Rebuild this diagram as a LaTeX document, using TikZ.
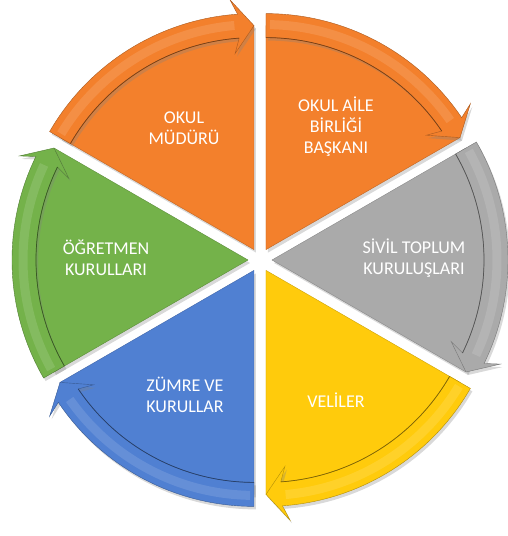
\documentclass[tikz,border=0pt]{standalone}
\usepackage{fontspec}
\setmainfont{Carlito}
\usetikzlibrary{shadows}

\definecolor{segorange}{RGB}{243,128,44}
\definecolor{seggray}{RGB}{170,170,170}
\definecolor{segyellow}{RGB}{255,203,12}
\definecolor{segblue}{RGB}{80,128,210}
\definecolor{seggreen}{RGB}{116,178,74}

% one wedge with its arrow band; #1 = end angle (arrow tip), #2 = colour
\newcommand{\pieseg}[2]{%
  \begin{scope}[shift={(#1+30:12pt)}]
    \fill[#2, draw=#2!80!black, wedge shadow]
      (0,0) -- (#1:224pt) arc[start angle=#1, end angle=#1+60, radius=224pt] -- cycle;
    \fill[#2, draw=#2!70!black, wedge shadow]
      (#1+60:212pt) arc[start angle=#1+60, end angle=#1+4, radius=212pt]
      -- (#1+5.5:197pt) -- (#1:224pt) -- (#1+5.5:251pt) -- (#1+4:236pt)
      arc[start angle=#1+4, end angle=#1+60, radius=236pt] -- cycle;
    \draw[#2!50!black, line width=.7pt]
      (#1+60:212pt) arc[start angle=#1+60, end angle=#1+4, radius=212pt];
    \draw[white, opacity=.12, line width=9pt]
      (#1+59:225pt) arc[start angle=#1+59, end angle=#1+5, radius=225pt];
  \end{scope}}

\begin{document}
\begin{tikzpicture}
  \tikzstyle{wedge shadow}=[drop shadow={shadow xshift=2pt, shadow yshift=-3pt, opacity=.3}]
  \tikzstyle{lbl}=[text=white, align=center, font=\fontsize{18}{21}\selectfont]

  \useasboundingbox (-260pt,-276pt) rectangle (247pt,260pt);

  \pieseg{90}{segorange}
  \pieseg{30}{segorange}
  \pieseg{-30}{seggray}
  \pieseg{-90}{segyellow}
  \pieseg{-150}{segblue}
  \pieseg{150}{seggreen}

  \node[lbl] (mudur)    at (-76pt,132pt)  {OKUL\\MÜDÜRÜ};
  \node[lbl] (aile)     at (76pt,133pt)   {OKUL AİLE\\BİRLİĞİ\\BAŞKANI};
  \node[lbl] (sivil)    at (154pt,2pt)    {SİVİL TOPLUM\\KURULUŞLARI};
  \node[lbl] (veli)     at (76pt,-140pt)  {VELİLER};
  \node[lbl] (zumre)    at (-75pt,-135pt) {ZÜMRE VE\\KURULLAR};
  \node[lbl] (ogretmen) at (-154pt,2pt)   {ÖĞRETMEN\\KURULLARI};
\end{tikzpicture}
\end{document}
